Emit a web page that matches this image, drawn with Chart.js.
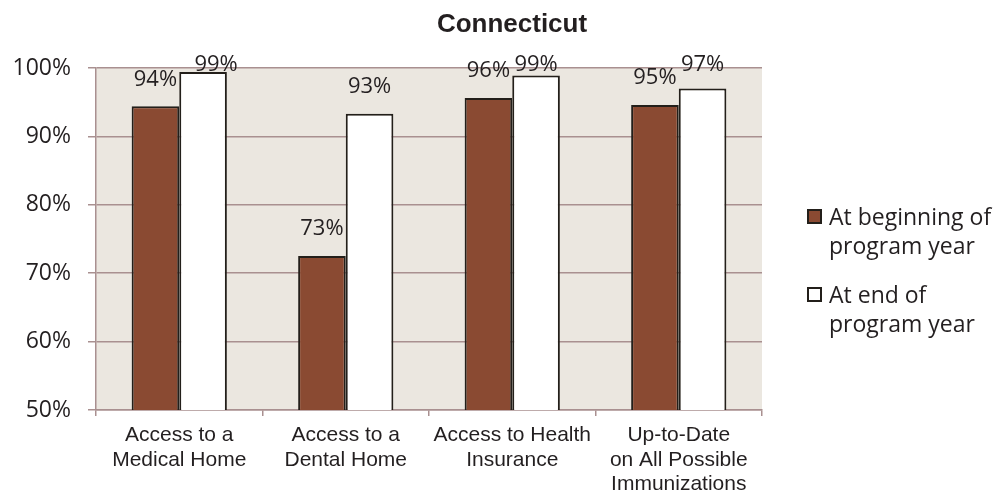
<!DOCTYPE html>
<html>
<head>
<meta charset="utf-8">
<script src="https://cdn.jsdelivr.net/npm/chart.js@4/dist/chart.umd.min.js"></script>
<style>
  html, body { margin: 0; padding: 0; background: #ffffff; }
  #wrap { position: relative; width: 997px; height: 496px; overflow: hidden; }
  #title { position: absolute; left: 312px; width: 400px; top: 7px; text-align: center;
           font: bold 26px "Liberation Sans", Arial, sans-serif; color: #231f20; line-height: 32px; }
  #legend { position: absolute; left: 807px; top: 202px; font: 23px "Open Sans", sans-serif; color: #231f20; }
  .item { display: flex; align-items: flex-start; margin-bottom: 20px; }
  .box { width: 11px; height: 11px; border: 2px solid #231f1a; margin-top: 7px; margin-right: 7px; flex: none; }
  .txt { line-height: 29px; white-space: nowrap; }
</style>
</head>
<body>
<div id="wrap">
  <canvas id="c" width="997" height="496"></canvas>
  <div id="title"></div>
  <div id="legend"></div>
</div>
<script>
const chartTitle = "Connecticut";
const categories = [
  ["Access to a", "Medical Home"],
  ["Access to a", "Dental Home"],
  ["Access to Health", "Insurance"],
  ["Up-to-Date", "on All Possible", "Immunizations"]
];
const seriesNames = [["At beginning of", "program year"], ["At end of", "program year"]];
const beginningValues = [94.4, 72.5, 95.6, 94.6];
const endValues = [99.4, 93.3, 98.9, 97.0];
const yTicks = [50, 60, 70, 80, 90, 100];
const seriesColors = ["#8a4a32", "#ffffff"];

document.getElementById('title').textContent = chartTitle;
const legendEl = document.getElementById('legend');
seriesNames.forEach((lines, i) => {
  const item = document.createElement('div'); item.className = 'item';
  const box = document.createElement('div'); box.className = 'box'; box.style.background = seriesColors[i];
  const txt = document.createElement('div'); txt.className = 'txt';
  lines.forEach((l, k) => { if (k) txt.appendChild(document.createElement('br')); txt.appendChild(document.createTextNode(l)); });
  item.appendChild(box); item.appendChild(txt); legendEl.appendChild(item);
});

const gridColor = '#a99090';
const textColor = '#231f20';

const bgPlugin = {
  id: 'plotBg',
  beforeDraw(chart) {
    const a = chart.chartArea, ctx = chart.ctx;
    ctx.save(); ctx.fillStyle = '#ebe7e0';
    ctx.fillRect(a.left, a.top, a.right - a.left, a.bottom - a.top);
    ctx.restore();
  }
};

const valueLabels = {
  id: 'valueLabels',
  afterDatasetsDraw(chart, args, opts) {
    const ctx = chart.ctx, a = chart.chartArea;
    ctx.save();
    ctx.font = '22px "Open Sans", sans-serif';
    ctx.fillStyle = textColor;
    ctx.textAlign = 'center';
    ctx.textBaseline = 'middle';
    chart.data.datasets.forEach((ds, di) => {
      const meta = chart.getDatasetMeta(di);
      meta.data.forEach((bar, i) => {
        const dx = (opts.xShift && opts.xShift[di + '-' + i]) || 0;
        const y = Math.max(bar.y - 27, a.top - 3);
        ctx.fillText(Math.round(ds.data[i]) + '%', bar.x + dx, y);
      });
    });
    ctx.restore();
  }
};

new Chart(document.getElementById('c'), {
  type: 'bar',
  data: {
    labels: categories,
    datasets: [
      { label: seriesNames[0].join(' '), data: beginningValues, backgroundColor: seriesColors[0],
        borderColor: '#231f1a', borderWidth: 2, categoryPercentage: 0.572, barPercentage: 1.0 },
      { label: seriesNames[1].join(' '), data: endValues, backgroundColor: seriesColors[1],
        borderColor: '#231f1a', borderWidth: 2, categoryPercentage: 0.572, barPercentage: 1.0 }
    ]
  },
  options: {
    responsive: false,
    animation: false,
    devicePixelRatio: 1,
    layout: { padding: { left: 0, right: 235, top: 68, bottom: 0 } },
    plugins: {
      legend: { display: false },
      title: { display: false },
      tooltip: { enabled: false },
      valueLabels: { xShift: { '1-0': 13 } }
    },
    scales: {
      x: {
        afterFit(s) { s.height = 86; },
        grid: { display: true, drawOnChartArea: false, drawTicks: true, tickLength: 6, color: gridColor, lineWidth: 1.5 },
        border: { display: true, color: gridColor, width: 1.5 },
        ticks: { color: textColor, padding: 7, maxRotation: 0, autoSkip: false,
                 font: { family: '"Liberation Sans", Arial, sans-serif', size: 21, lineHeight: 1.17 } }
      },
      y: {
        min: yTicks[0], max: yTicks[yTicks.length - 1],
        afterFit(s) { s.width = 96; },
        afterBuildTicks(s) { s.ticks = yTicks.map(v => ({ value: v })); },
        grid: { color: gridColor, lineWidth: 1.5, tickLength: 8, drawTicks: true },
        border: { display: true, color: gridColor, width: 1.5 },
        ticks: { color: textColor, padding: 17, callback: v => v + '%',
                 font: { family: '"Open Sans", sans-serif', size: 23 } }
      }
    }
  },
  plugins: [bgPlugin, valueLabels]
});
</script>
</body>
</html>
